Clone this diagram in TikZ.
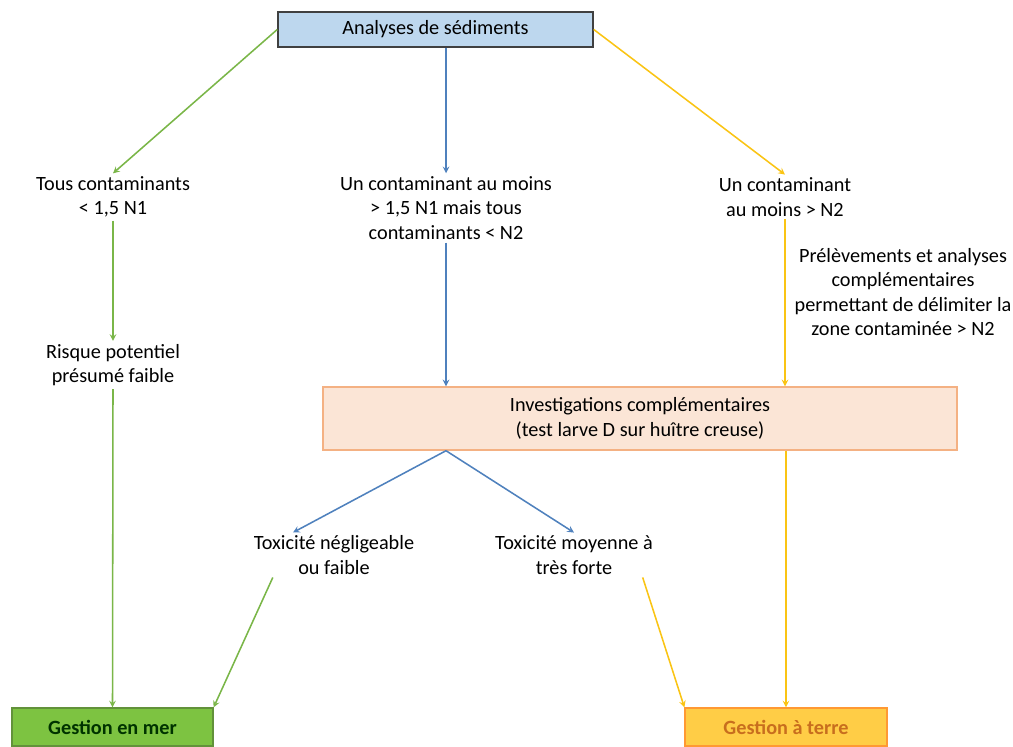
\documentclass[tikz,border=0pt]{standalone}
\usepackage{fontspec}
\setmainfont{Carlito}
\usepackage{tikz}
\usetikzlibrary{shapes.geometric, arrows}
\tikzstyle{arrow} = [line width=1.1pt,->,>=stealth]
\definecolor{vert}{RGB}{122,182,72}
\definecolor{bleu}{RGB}{79,129,189}
\definecolor{jaune}{RGB}{250,196,20}
\definecolor{bleuclair}{RGB}{189,215,238}
\definecolor{peche}{RGB}{251,229,214}
\definecolor{orangeclair}{RGB}{244,177,131}
\definecolor{vertmer}{RGB}{125,195,65}
\definecolor{jauneterre}{RGB}{255,205,70}
\definecolor{texteterre}{RGB}{200,110,30}

\begin{document}
\begin{tikzpicture}[x=0.025cm, y=-0.025cm, every node/.style={font=\fontsize{14.4}{17.5}\selectfont, align=center, inner sep=2pt}]
        \useasboundingbox (0,0) rectangle (1013,747);
        % Node positions
        \node[draw=black!75, fill=bleuclair, line width=1pt, minimum width=7.875cm, minimum height=0.875cm] (A) at (435.5,29.5) {Analyses de sédiments};
        \node (B) at (113,197) {Tous contaminants\\< 1,5 N1};
        \node (C) at (113,365) {Risque potentiel\\présumé faible};
        \node (D) at (446,208) {Un contaminant au moins\\> 1,5 N1 mais tous\\contaminants < N2};
        \node (E) at (785,197) {Un contaminant\\au moins > N2};
        \node (P) at (903,292) {Prélèvements et analyses\\complémentaires\\permettant de délimiter la\\zone contaminée > N2};
        \node[draw=orangeclair, fill=peche, line width=1pt, minimum width=15.85cm, minimum height=1.575cm] (F) at (640,418.5) {Investigations complémentaires\\(test larve D sur huître creuse)};
        \node (I) at (334,555) {Toxicité négligeable\\ou faible};
        \node (J) at (574,555) {Toxicité moyenne à\\très forte};
        \node[draw=vert!80!black, fill=vertmer, line width=0.8pt, minimum width=5.025cm, minimum height=0.95cm, font=\fontsize{14.4}{17.5}\selectfont\bfseries, text=black!80!green] (G) at (112.5,727) {Gestion en mer};
        \node[draw=orange!80, fill=jauneterre, line width=0.8pt, minimum width=5.05cm, minimum height=0.95cm, font=\fontsize{14.4}{17.5}\selectfont\bfseries, text=texteterre] (K) at (786,727) {Gestion à terre};

        \draw[arrow,vert] (A.west) -- (B.north);
        \draw[arrow,bleu] (D.north |- A.south) -- (D.north);
        \draw[arrow,jaune] (A.east) -- (E.north);

        \draw[arrow,vert] (B.south) -- (C.north);
        \draw[arrow,vert] (C.south) -- (G.north);

        \draw[arrow,bleu] (D.south) -- (D.south |- F.north);
        \draw[arrow,jaune] (E.south) -- (E.south |- F.north);
        \draw[arrow,jaune] (K.north |- F.south) -- (K.north);

        \draw[arrow,bleu] (D.south |- F.south) -- ([xshift=-1.025cm]I.north);
        \draw[arrow,bleu] (D.south |- F.south) -- (J.north);

        \draw[arrow,vert] ([xshift=0.55cm]I.south west) -- (G.north east);
        \draw[arrow,jaune] ([xshift=-0.33cm]J.south east) -- (K.north west);
      \end{tikzpicture}
\end{document}
